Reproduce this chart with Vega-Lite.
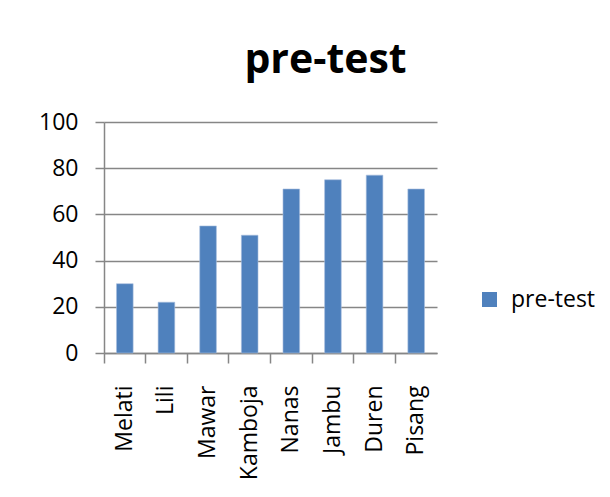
{
  "$schema": "https://vega.github.io/schema/vega-lite/v6.json",
  "width": 333,
  "height": 231,
  "autosize": {"type": "none"},
  "padding": {"left": 104, "top": 122, "right": 173, "bottom": 144},
  "background": "white",
  "title": {
    "text": "pre-test",
    "font": "Open Sans",
    "fontSize": 41,
    "fontWeight": "bold",
    "color": "black",
    "anchor": "middle",
    "baseline": "alphabetic",
    "dx": 55,
    "offset": -3
  },
  "data": {
    "values": [
      {"name": "Melati", "value": 30},
      {"name": "Lili", "value": 22},
      {"name": "Mawar", "value": 55},
      {"name": "Kamboja", "value": 51},
      {"name": "Nanas", "value": 71},
      {"name": "Jambu", "value": 75},
      {"name": "Duren", "value": 77},
      {"name": "Pisang", "value": 71}
    ]
  },
  "mark": {"type": "bar", "width": {"band": 0.4}, "stroke": "#A9C0DF", "strokeWidth": 0.6},
  "encoding": {
    "x": {
      "field": "name",
      "type": "nominal",
      "sort": null,
      "scale": {"paddingInner": 0, "paddingOuter": 0},
      "axis": {
        "title": null,
        "labelAngle": -90,
        "labelAlign": "right",
        "labelBaseline": "middle",
        "labelFont": "Open Sans",
        "labelFontSize": 23,
        "labelColor": "black",
        "labelPadding": 22,
        "bandPosition": 0,
        "tickSize": 10,
        "tickColor": "#868686",
        "tickWidth": 1.5,
        "domainColor": "#868686",
        "domainWidth": 1.5,
        "grid": false
      }
    },
    "y": {
      "field": "value",
      "type": "quantitative",
      "scale": {"domain": [0, 100]},
      "axis": {
        "title": null,
        "values": [0, 20, 40, 60, 80, 100],
        "labelFont": "Open Sans",
        "labelFontSize": 23,
        "labelColor": "black",
        "labelPadding": 17,
        "tickSize": 9,
        "tickColor": "#868686",
        "tickWidth": 1.5,
        "domainColor": "#868686",
        "domainWidth": 1.5,
        "gridColor": "#868686",
        "gridWidth": 1.5
      }
    },
    "color": {
      "datum": "pre-test",
      "type": "nominal",
      "scale": {"range": ["#4F81BD"]},
      "legend": {
        "title": null,
        "orient": "none",
        "legendX": 374,
        "legendY": 166,
        "symbolType": "square",
        "symbolSize": 225,
        "symbolStrokeWidth": 0,
        "labelFont": "Open Sans",
        "labelFontSize": 23,
        "labelColor": "black",
        "labelOffset": 10
      }
    }
  },
  "config": {"view": {"stroke": null}}
}
